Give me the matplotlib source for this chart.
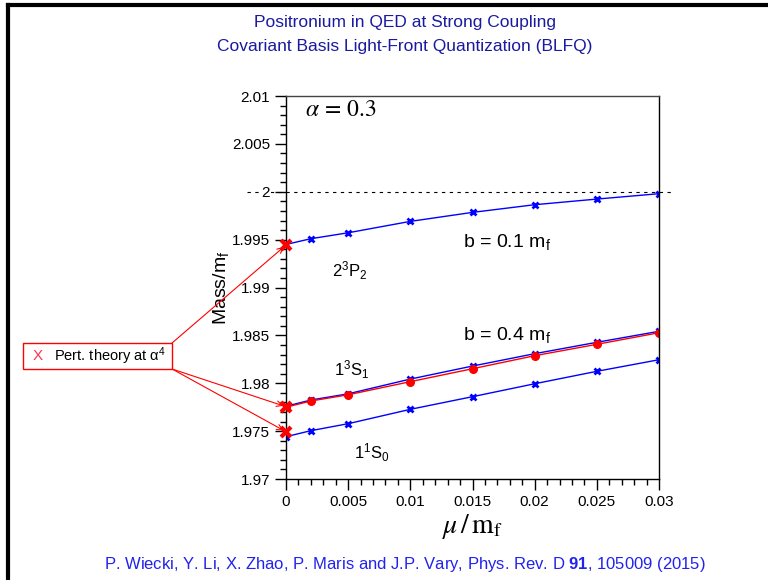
import matplotlib
matplotlib.use("Agg")
import matplotlib.pyplot as plt
from matplotlib.lines import Line2D
from matplotlib.patches import Rectangle
from matplotlib.ticker import MultipleLocator, FormatStrFormatter

plt.rcParams['font.family'] = ['Liberation Sans', 'DejaVu Sans']
plt.rcParams['mathtext.fontset'] = 'custom'
plt.rcParams['mathtext.rm'] = 'Liberation Sans'
plt.rcParams['mathtext.it'] = 'Liberation Sans:italic'
plt.rcParams['mathtext.bf'] = 'Liberation Sans:bold'

# mu / m_f
mu = [0, 0.002, 0.005, 0.01, 0.015, 0.02, 0.025, 0.03]

# b = 0.1 m_f, 2^3P_2
p2_blue = [1.99450, 1.99510, 1.99572, 1.99691, 1.99785, 1.99865, 1.99924, 1.99980]
# b = 0.4 m_f, 1^3S_1 (two calculations)
s1_blue = [1.97760, 1.97825, 1.97890, 1.98044, 1.98180, 1.98309, 1.98428, 1.98543]
s1_red = [1.97750, 1.97815, 1.97880, 1.98017, 1.98152, 1.98288, 1.98407, 1.98528]
# 1^1S_0
s0_blue = [1.97442, 1.97505, 1.97578, 1.97728, 1.97860, 1.97995, 1.98125, 1.98246]

# perturbation theory at alpha^4 (mu = 0)
pert = [1.99444, 1.97755, 1.97494]

fig = plt.figure(figsize=(7.68, 5.80), dpi=100)
ax = fig.add_axes([0.3724, 0.1741, 0.4857, 0.6603])

ax.plot(mu, p2_blue, color='blue', lw=1, marker='x', ms=4.5, mew=2)
ax.plot(mu, s1_blue, color='blue', lw=1, marker='x', ms=4.5, mew=2)
ax.plot(mu, s1_red, color='red', lw=1, marker='o', ms=5.5)
ax.plot(mu, s0_blue, color='blue', lw=1, marker='x', ms=4.5, mew=2)
ax.plot([0] * len(pert), pert, ls='none', color='red', marker='x', ms=7.5, mew=3,
        clip_on=False, zorder=5)

ax.plot([-0.105, 1.035], [2.0, 2.0], color='black', lw=0.8, ls=(0, (3, 4)),
        transform=ax.get_yaxis_transform(), clip_on=False, zorder=0)

ax.set_xlim(0, 0.03)
ax.set_ylim(1.97, 2.01)
ax.xaxis.set_major_locator(MultipleLocator(0.005))
ax.xaxis.set_minor_locator(MultipleLocator(0.001))
ax.yaxis.set_major_locator(MultipleLocator(0.005))
ax.yaxis.set_minor_locator(MultipleLocator(0.001))
ax.xaxis.set_major_formatter(FormatStrFormatter('%g'))
ax.yaxis.set_major_formatter(FormatStrFormatter('%g'))
ax.tick_params(which='major', direction='out', length=8, width=1, labelsize=11)
ax.tick_params(which='minor', direction='out', length=4, width=1)
for lab in ax.get_yticklabels():
    if lab.get_text() == '2':
        lab.set_bbox(dict(facecolor='white', edgecolor='none', pad=1))
ax.spines['top'].set_color('#444444')
for s in ax.spines.values():
    s.set_linewidth(1)

ax.set_ylabel('Mass/m$_\\mathrm{f}$', fontsize=14, labelpad=1)
ax.set_xlabel(r'$\mu\,/\,\mathrm{m}_\mathrm{f}$', fontsize=20, labelpad=2,
              math_fontfamily='stix')

ax.text(0.0015, 2.0085, r'$\alpha\,=\,0.3$', fontsize=17, va='center',
        math_fontfamily='stix')
ax.text(0.0142, 1.99475, 'b = 0.1 m$_\\mathrm{f}$', fontsize=14, va='center')
ax.text(0.0142, 1.98504, 'b = 0.4 m$_\\mathrm{f}$', fontsize=14, va='center')
ax.text(0.0037, 1.9918, r'$2^3\mathrm{P}_2$', fontsize=12, va='center')
ax.text(0.0039, 1.9814, r'$1^3\mathrm{S}_1$', fontsize=12, va='center')
ax.text(0.0055, 1.9727, r'$1^1\mathrm{S}_0$', fontsize=12, va='center')

# legend box with arrows
bx0, bx1, by0, by1 = 0.030, 0.224, 0.3638, 0.4086
fig.add_artist(Rectangle((bx0, by0), bx1 - bx0, by1 - by0, transform=fig.transFigure,
                         facecolor='white', edgecolor='red', lw=1))
fig.text(bx0 + 0.012, (by0 + by1) / 2, 'X', color='#ff3355', fontsize=11, va='center')
fig.text(bx0 + 0.040, (by0 + by1) / 2, 'Pert. theory at α$^4$', fontsize=10.5, va='center')
arrow = dict(arrowstyle='->', color='red', lw=0.8, shrinkA=0, shrinkB=2)
ax.annotate('', xy=(0, pert[0]), xytext=(bx1, by1), xycoords='data',
            textcoords='figure fraction', arrowprops=arrow, annotation_clip=False)
ax.annotate('', xy=(0, pert[1]), xytext=(bx1, by0), xycoords='data',
            textcoords='figure fraction', arrowprops=arrow, annotation_clip=False)
ax.annotate('', xy=(0, pert[2]), xytext=(bx1, by0), xycoords='data',
            textcoords='figure fraction', arrowprops=arrow, annotation_clip=False)

# title and reference
fig.text(0.527, 0.962, 'Positronium in QED at Strong Coupling', color='#1a1aa0',
         fontsize=12.5, ha='center', va='center')
fig.text(0.527, 0.919, 'Covariant Basis Light-Front Quantization (BLFQ)', color='#1a1aa0',
         fontsize=12.5, ha='center', va='center')
fig.text(0.527, 0.026, r'P. Wiecki, Y. Li, X. Zhao, P. Maris and J.P. Vary, Phys. Rev. D $\mathbf{91}$, 105009 (2015)',
         color='#2222ee', fontsize=12, ha='center', va='center')

# slide frame
fig.add_artist(Line2D([0.011, 1.0], [0.992, 0.992], color='black', lw=3, transform=fig.transFigure))
fig.add_artist(Line2D([0.011, 0.011], [0.0, 0.992], color='black', lw=3, transform=fig.transFigure))

fig.savefig('out.png', dpi=100)
